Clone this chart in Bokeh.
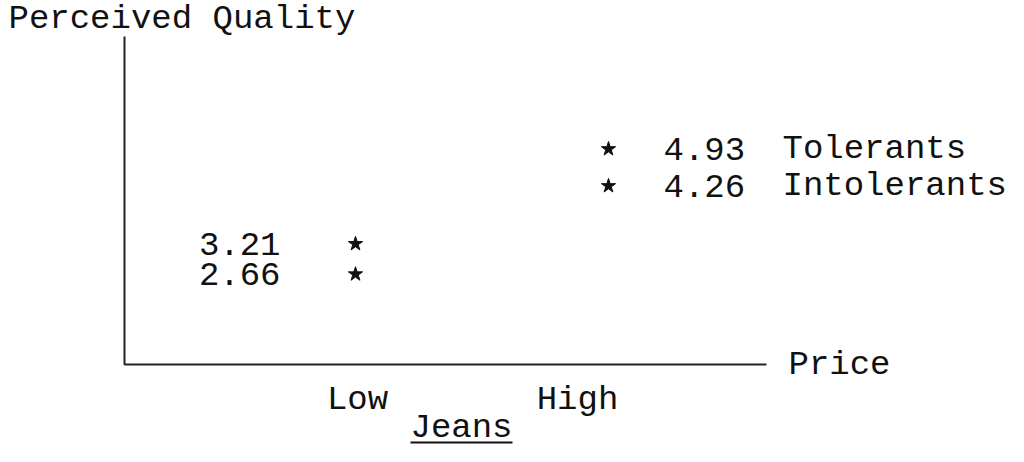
from bokeh.plotting import figure
from bokeh.models import Range1d
from bokeh.core.properties import value
from bokeh.embed import file_html
from bokeh.resources import INLINE

# ---- data ----
price_levels = ["Low", "High"]
groups = ["Tolerants", "Intolerants"]
low_price_quality = [3.21, 2.66]
high_price_quality = [4.93, 4.26]
y_title = "Perceived Quality"
x_title = "Price"
product = "Jeans"

# ---- layout (reference pixels -> data) ----
W, H = 1008, 446
SHIFT_Y = 8
X_PER_UNIT = 253.0
Y_PER_UNIT = 55.15
X0_PAGE, Y0_PAGE, Y0_VAL = 355.0, 220.75, 3.765


def dx(px):
    return 1 + (px - X0_PAGE) / X_PER_UNIT


def dy(py):
    return Y0_VAL - (py - Y0_PAGE) / Y_PER_UNIT


FONT = value("Liberation Mono")
FS = "34px"
INK = "#111111"
TXT = dict(text_font=FONT, text_font_size=FS, text_color=INK, text_baseline="middle")

p = figure(width=W, height=H, output_backend="svg", toolbar_location=None,
           x_range=Range1d(dx(0), dx(W)), y_range=Range1d(dy(H + SHIFT_Y), dy(SHIFT_Y)),
           x_axis_location=None, y_axis_location=None,
           min_border=0, outline_line_color=None)
p.grid.grid_line_color = None
p.background_fill_color = "white"
p.border_fill_color = "white"

# axes lines
p.line(x=[dx(124), dx(124), dx(766)], y=[dy(44), dy(372), dy(372)],
       line_width=2, line_color="#222222")

# stars
n = len(groups)
xs = [1] * n + [2] * n
ys = low_price_quality + high_price_quality
p.scatter(x=xs, y=ys, marker="star", size=15, color=INK)

# value labels, low price (to the left of the stars)
p.text(x=[1] * n, y=low_price_quality, text=[f"{v:.2f}" for v in low_price_quality],
       text_align="right", x_offset=-75, **TXT)
# value labels, high price (to the right)
p.text(x=[2] * n, y=high_price_quality, text=[f"{v:.2f}" for v in high_price_quality],
       text_align="left", x_offset=55, **TXT)
p.text(x=[2] * n, y=high_price_quality, text=groups,
       text_align="left", x_offset=174, **TXT)

# price level labels
p.text(x=[1, 2], y=[dy(407)] * 2, text=price_levels, x_offset=[2, -31],
       text_align="center", **TXT)

# titles
p.text(x=[dx(8)], y=[dy(26)], text=[y_title], text_align="left", **TXT)
p.text(x=[dx(788)], y=[dy(372)], text=[x_title], text_align="left", **TXT)
p.text(x=[dx(461)], y=[dy(435)], text=[product], text_align="center", **TXT)
p.line(x=[dx(410), dx(512)], y=[dy(450), dy(450)], line_width=2, line_color=INK)

open("out.html", "w").write(file_html(p, INLINE))
